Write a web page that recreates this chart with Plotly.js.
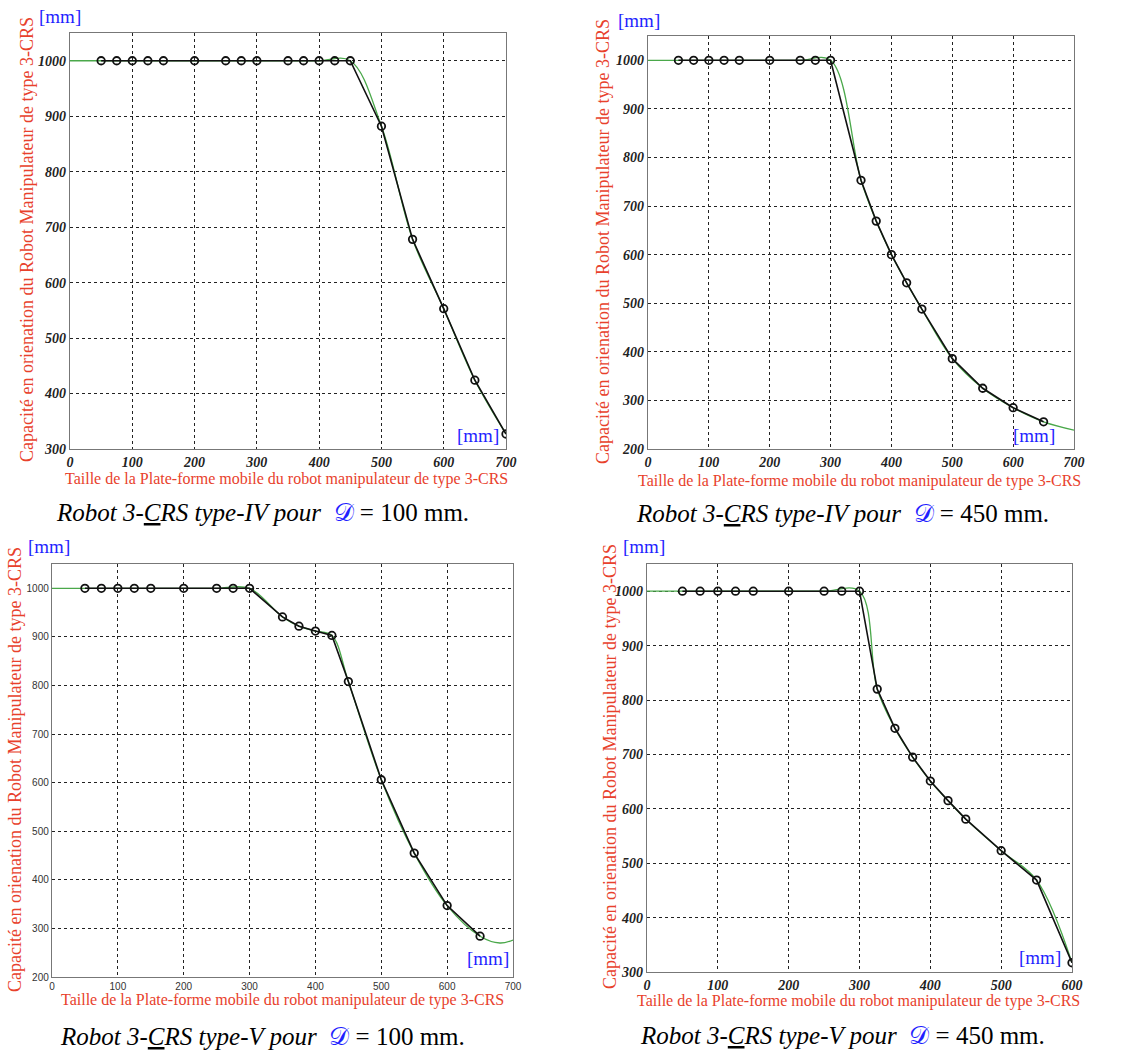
<!DOCTYPE html>
<html><head><meta charset="utf-8">
<script src="https://cdn.plot.ly/plotly-3.0.1.min.js"></script>
<style>body{margin:0;background:#fff}#plot{width:1137px;height:1050px}</style>
</head><body><div id="plot"></div>
<script>
// ---- Data ----
// Panel 1: type-IV, D = 100 mm
const xIV100 = [50,75,100,125,150,200,250,275,300,350,375,400,425,450,500,550,600,650,700];
const yIV100 = [1000,1000,1000,1000,1000,1000,1000,1000,1000,1000,1000,1000,1000,1000,882,678,553,424,327];
const xIV100fit = [0,50,100,150,200,250,300,350,400,450,500,550,600,650,700];
const yIV100fit = [1000,1000,1000,1000,1000,1000,1000,1000,1000,1000,882,678,553,424,327];
// Panel 2: type-IV, D = 450 mm
const xIV450 = [50,75,100,125,150,200,250,275,300,350,375,400,425,450,500,550,600,650];
const yIV450 = [1000,1000,1000,1000,1000,1000,1000,1000,1000,753,669,600,542,488,386,325,285,256];
const xIV450fit = [0,50,100,150,200,250,300,350,375,400,425,450,500,550,600,650,700];
const yIV450fit = [1000,1000,1000,1000,1000,1000,1000,753,669,600,542,488,386,325,285,256,239];
// Panel 3: type-V, D = 100 mm
const xV100 = [50,75,100,125,150,200,250,275,300,350,375,400,425,450,500,550,600,650];
const yV100 = [1000,1000,1000,1000,1000,1000,1000,1000,1000,941,922,912,903,808,606,455,347,284];
const xV100fit = [0,50,100,150,200,250,300,350,375,400,425,450,500,550,600,650,680,700];
const yV100fit = [1000,1000,1000,1000,1000,1000,1000,941,922,912,903,808,606,455,347,284,270,276];
// Panel 4: type-V, D = 450 mm
const xV450 = [50,75,100,125,150,200,250,275,300,325,350,375,400,425,450,500,550,600];
const yV450 = [1000,1000,1000,1000,1000,1000,1000,1000,1000,820,748,695,651,615,581,523,469,317];
const xV450fit = [0,50,100,150,200,250,300,325,350,375,400,425,450,500,550,600];
const yV450fit = [1000,1000,1000,1000,1000,1000,1000,820,748,695,651,615,581,523,469,317];

const xTitle = "Taille de la Plate-forme mobile du robot manipulateur de type 3-CRS";
const yTitle = "Capacité en orienation du Robot Manipulateur de type 3-CRS";
const captions = [
  ["type-IV","100"],["type-IV","450"],["type-V","100"],["type-V","450"]
];

const W = 1137, H = 1050;
const px = x => x / W;
const py = y => 1 - y / H;

const green = '#4aa84a';
const red = '#e8412c';
const blue = '#1f1fff';

function fitTrace(x, y, xa, ya) {
  return {x, y, xaxis: xa, yaxis: ya, type: 'scatter', mode: 'lines',
    line: {color: green, width: 1.3, shape: 'spline', smoothing: 1}, hoverinfo: 'skip'};
}
function ptsTrace(x, y, xa, ya) {
  return {x, y, xaxis: xa, yaxis: ya, type: 'scatter', mode: 'lines+markers',
    line: {color: '#111', width: 1.6},
    marker: {symbol: 'circle-open', size: 7.5, color: '#111', line: {width: 1.8, color: '#111'}}};
}

const data = [
  fitTrace(xIV100fit, yIV100fit, 'x', 'y'), ptsTrace(xIV100, yIV100, 'x', 'y'),
  fitTrace(xIV450fit, yIV450fit, 'x2', 'y2'), ptsTrace(xIV450, yIV450, 'x2', 'y2'),
  fitTrace(xV100fit, yV100fit, 'x3', 'y3'), ptsTrace(xV100, yV100, 'x3', 'y3'),
  fitTrace(xV450fit, yV450fit, 'x4', 'y4'), ptsTrace(xV450, yV450, 'x4', 'y4')
];

const serifTick = {family: 'Liberation Serif, Times New Roman, serif', size: 14, color: '#222', weight: 'bold', style: 'italic'};
const sansTick = {family: 'Liberation Sans, Arial, sans-serif', size: 10, color: '#333'};

function ax(domain, range, anchor, tickfont) {
  return {domain, range, anchor, dtick: 100, tick0: 0, showgrid: true, gridcolor: '#222',
    griddash: 'dot', gridwidth: 1, zeroline: false, showline: true, mirror: true,
    linecolor: '#777', linewidth: 1.2, ticks: '', tickfont, fixedrange: true};
}

// panel geometry in pixels: [left, right, top, bottom]
const P = [
  [70, 506, 33, 449],
  [648, 1074, 36, 449],
  [52, 513, 564, 977],
  [647, 1072, 564, 972]
];
const xr = [[0,700],[0,700],[0,700],[0,600]];
const yr = [[300,1050],[200,1050],[200,1050],[300,1050]];
const tf = [serifTick, serifTick, sansTick, serifTick];

const layout = {
  width: W, height: H, margin: {l:0, r:0, t:0, b:0},
  paper_bgcolor: '#fff', plot_bgcolor: '#fff', showlegend: false,
  annotations: []
};
const names = ['', '2', '3', '4'];
P.forEach((p, i) => {
  const n = names[i];
  layout['xaxis' + n] = ax([px(p[0]), px(p[1])], xr[i], 'y' + n, tf[i]);
  layout['yaxis' + n] = ax([py(p[3]), py(p[2])], yr[i], 'x' + n, tf[i]);
});

// text positions (pixels)
const yTitlePos = [[27, 240], [603, 242], [15, 770], [610, 767]];
const xTitlePos = [[286, 479], [859, 481], [282, 1000], [858, 1001]];
const capPos = [[262, 512], [842, 513], [262, 1036], [842, 1035]];
const mmTop = [[60, 16], [639, 20], [49, 546], [644, 546]];
const mmBot = [[478, 435], [1034, 435], [488, 958], [1040, 957]];

const serif = 'Liberation Serif, Times New Roman, serif';
for (let i = 0; i < 4; i++) {
  layout.annotations.push({xref:'paper', yref:'paper', x: px(yTitlePos[i][0]), y: py(yTitlePos[i][1]),
    text: yTitle, textangle: -90, showarrow: false, xanchor: 'center', yanchor: 'middle',
    font: {family: serif, size: 18, color: red}});
  layout.annotations.push({xref:'paper', yref:'paper', x: px(xTitlePos[i][0]), y: py(xTitlePos[i][1]),
    text: xTitle, showarrow: false, xanchor: 'center', yanchor: 'middle',
    font: {family: serif, size: 16, color: red}});
  layout.annotations.push({xref:'paper', yref:'paper', x: px(capPos[i][0]), y: py(capPos[i][1]),
    text: '<i>Robot 3-<u>C</u>RS ' + captions[i][0] + ' pour</i>  <span style="color:' + blue + '">𝒟</span> = ' + captions[i][1] + ' mm.',
    showarrow: false, xanchor: 'center', yanchor: 'middle',
    font: {family: serif, size: 25, color: '#000'}});
  layout.annotations.push({xref:'paper', yref:'paper', x: px(mmTop[i][0]), y: py(mmTop[i][1]),
    text: '[mm]', showarrow: false, xanchor: 'center', yanchor: 'middle',
    font: {family: serif, size: 19, color: blue}});
  layout.annotations.push({xref:'paper', yref:'paper', x: px(mmBot[i][0]), y: py(mmBot[i][1]),
    text: '[mm]', showarrow: false, xanchor: 'center', yanchor: 'middle',
    font: {family: serif, size: 19, color: blue}});
}

Plotly.newPlot('plot', data, layout, {staticPlot: true, displayModeBar: false});
</script>
</body></html>
